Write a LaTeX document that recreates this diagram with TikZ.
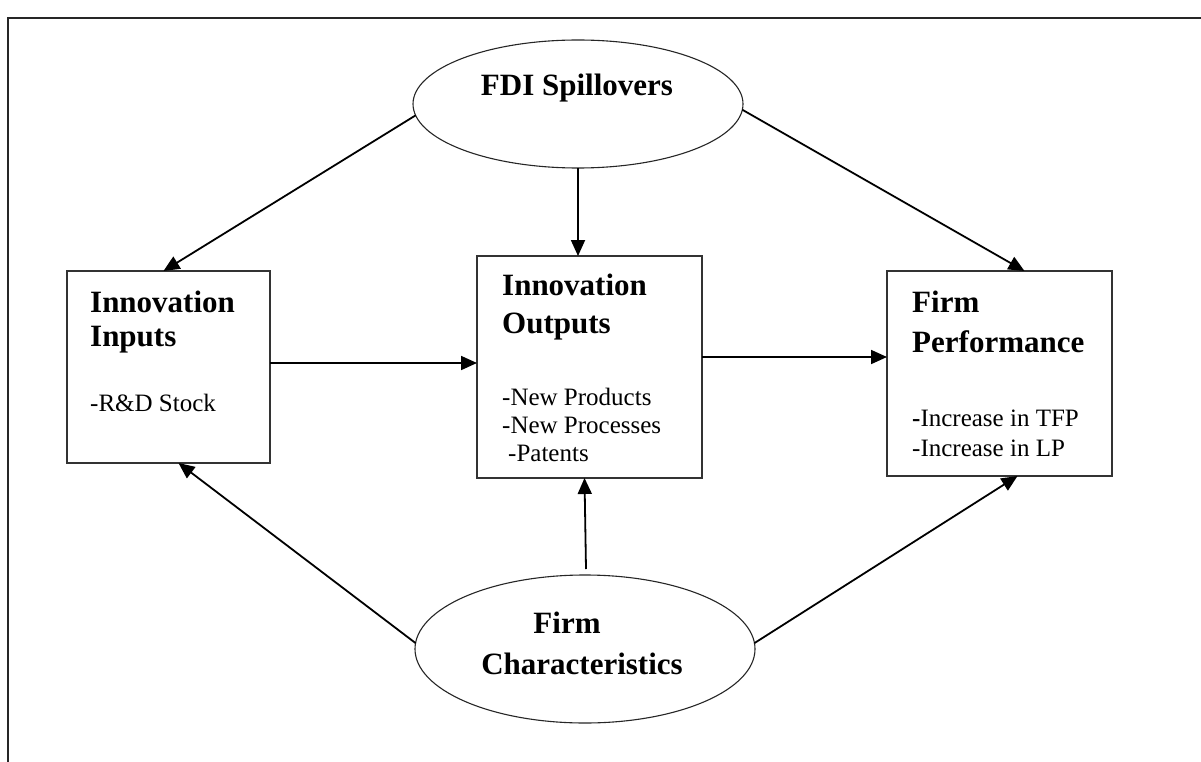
\documentclass[tikz,border=0pt]{standalone}
\usepackage{fontspec}
\setmainfont{Liberation Serif}
\usetikzlibrary{arrows.meta,shapes.geometric,calc}
\begin{document}
\begin{tikzpicture}[x=1pt,y=-1pt,
  box/.style={draw=black!80,line width=1.6pt,inner sep=0pt,outer sep=0pt},
  oval/.style={draw=black!85,line width=1.1pt,ellipse,inner sep=0pt,outer sep=0pt},
  tb/.style={anchor=base west,inner sep=0pt,font=\fontsize{31}{31}\selectfont\bfseries},
  tbc/.style={anchor=base,inner sep=0pt,font=\fontsize{31}{31}\selectfont\bfseries},
  tr/.style={anchor=base west,inner sep=0pt,font=\fontsize{25}{25}\selectfont},
  arr/.style={line width=1.8pt,-{Triangle[length=16pt,width=14pt]}},
  frame/.style={line width=2pt,black!85}]
\useasboundingbox (0,0) rectangle (1201,762);
\clip (0,0) rectangle (1201,762);
\fill[white] (0,0) rectangle (1201,762);
% cut-off title
\node[anchor=base west,inner sep=0pt,font=\fontsize{26}{26}\selectfont\bfseries] (title) at (212,-9) {Figure 1: Conceptual Model for Empirical Analysis};
% frame
\draw[frame] (1201,18) -- (8,18) -- (8,762);
% ellipses
\node[oval,minimum width=330pt,minimum height=128pt] (fdi) at (578,104) {};
\node[oval,minimum width=340pt,minimum height=148pt] (fc) at (585,649) {};
\node[tbc] (fdit) at (577,96) {FDI Spillovers};
\node[tbc] (fct1) at (567,633) {Firm};
\node[tbc] (fct2) at (582,674) {Characteristics};
% boxes
\node[box,minimum width=203pt,minimum height=192pt] (in) at (168.5,367) {};
\node[box,minimum width=225pt,minimum height=222pt] (out) at (589.5,367) {};
\node[box,minimum width=225pt,minimum height=205pt] (perf) at (999.5,373.5) {};
% box texts
\node[tb] (in1) at (90,312) {Innovation};
\node[tb] (in2) at (90,346) {Inputs};
\node[tr] (in3) at (90,411) {-R\&D Stock};
\node[tb] (out1) at (502,295) {Innovation};
\node[tb] (out2) at (502,333) {Outputs};
\node[tr] (out3) at (502,405) {-New Products};
\node[tr] (out4) at (502,433) {-New Processes};
\node[tr] (out5) at (508,461) {-Patents};
\node[tb] (pf1) at (912,312) {Firm};
\node[tb] (pf2) at (912,352) {Performance};
\node[tr] (pf3) at (912,426) {\textbf{-}Increase in TFP};
\node[tr] (pf4) at (912,456) {-Increase in LP};
% connectors
\draw[arr] (fdi.184) -- ($(in.north)+(-5,0)$);
\draw[arr] (fdi.south) -- (fdi.south |- out.north);
\draw[arr] (fdi.-2) -- ($(perf.north)+(25,0)$);
\draw[arr] ($(in.east)+(0,-4)$) -- ($(out.west)+(0,-4)$);
\draw[arr] ($(out.east)+(0,-10)$) -- ($(perf.west)+(0,-16.5)$);
\draw[arr] (fc.178) -- ($(in.south)+(10,0)$);
\draw[arr] ($(fc.north)+(1,-6)$) -- ($(out.south)+(-5,0)$);
\draw[arr] (fc.2) -- ($(perf.south)+(18,0)$);
\end{tikzpicture}
\end{document}
